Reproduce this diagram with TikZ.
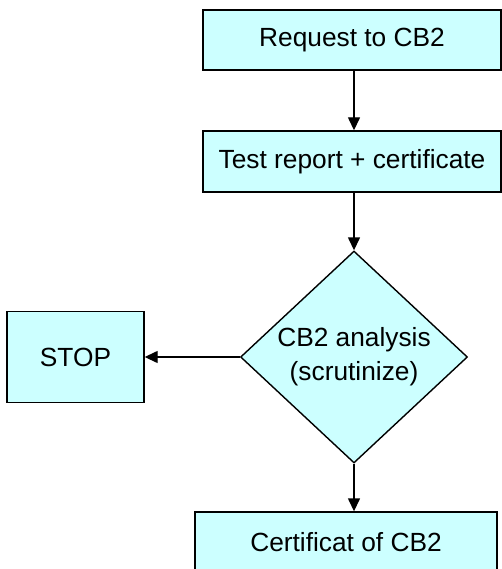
\documentclass[tikz,border=0pt]{standalone}
\usepackage{fontspec}
\setmainfont{Liberation Sans}
\usetikzlibrary{shapes.geometric,arrows.meta}
\definecolor{boxfill}{HTML}{CCFFFF}
\begin{document}
\begin{tikzpicture}[x=1pt,y=-1pt,
  every node/.style={font=\fontsize{26.3}{34}\selectfont},
  procbox/.style={draw=black,line width=1.4pt,fill=boxfill,rectangle,inner sep=0pt,align=center},
  decbox/.style={draw=black,line width=1.4pt,fill=boxfill,diamond,inner sep=0pt,align=center,minimum width=227pt,minimum height=210pt},
  flow/.style={draw=black,line width=1.4pt,-{Triangle[length=13pt,width=12pt]}}]
\useasboundingbox (0,0) rectangle (502,569);
\clip (0,0) rectangle (502,569);
\node[procbox,minimum width=298pt,minimum height=60pt] (req) at (352,40) {Request to CB2};
\node[procbox,minimum width=298pt,minimum height=61pt] (test) at (352,161.5) {Test report + certificate};
\node[decbox] (ana) at (354,357) {CB2 analysis\\(scrutinize)};
\node[procbox,minimum width=137pt,minimum height=91pt] (stop) at (75.5,357) {STOP};
\node[procbox,minimum width=302pt,minimum height=60pt] (cert) at (346,542) {Certificat of CB2};
\draw[flow] (req.south -| ana.north) -- (test.north -| ana.north);
\draw[flow] (test.south -| ana.north) -- (ana.north);
\draw[flow] (ana.west) -- (stop.east);
\draw[flow] (ana.south) -- (ana.south |- cert.north);
\end{tikzpicture}
\end{document}
